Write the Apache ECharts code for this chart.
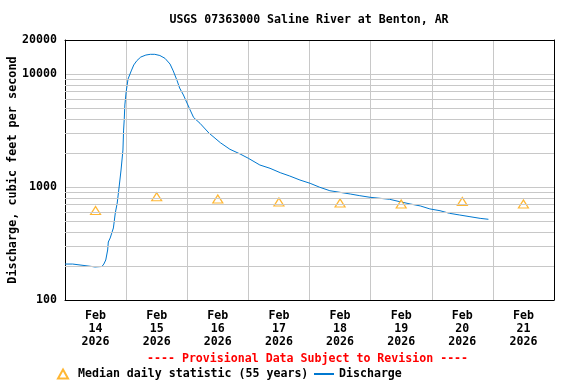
<!DOCTYPE html>
<html>
<head>
<meta charset="utf-8">
<script src="https://cdn.jsdelivr.net/npm/echarts@6/dist/echarts.min.js"></script>
<style>html,body{margin:0;padding:0;background:#fff}#c{width:576px;height:384px}</style>
</head>
<body>
<div id="c"></div>
<script>
// ---- data ----
const dayCategories = ['2026-02-14','2026-02-15','2026-02-16','2026-02-17','2026-02-18','2026-02-19','2026-02-20','2026-02-21'];
const dayTickLabels = ['Feb\n14\n2026','Feb\n15\n2026','Feb\n16\n2026','Feb\n17\n2026','Feb\n18\n2026','Feb\n19\n2026','Feb\n20\n2026','Feb\n21\n2026'];
const medianValues = [619, 821, 783, 736, 721, 708, 745, 708];
const dischargeTimes = [
 '2026-02-14 00:00','2026-02-14 03:00','2026-02-14 03:30','2026-02-14 10:30','2026-02-14 11:00','2026-02-14 11:45',
 '2026-02-14 12:00','2026-02-14 14:30','2026-02-14 15:15','2026-02-14 16:00','2026-02-14 16:45','2026-02-14 17:00',
 '2026-02-14 17:45','2026-02-14 18:15','2026-02-14 19:00','2026-02-14 19:45','2026-02-14 20:30','2026-02-14 21:15',
 '2026-02-14 22:00','2026-02-14 22:45','2026-02-14 23:00','2026-02-14 23:15','2026-02-14 23:30','2026-02-15 00:00',
 '2026-02-15 00:45','2026-02-15 02:00','2026-02-15 03:00','2026-02-15 04:15','2026-02-15 05:45','2026-02-15 07:45',
 '2026-02-15 09:30','2026-02-15 11:15','2026-02-15 13:15','2026-02-15 15:15','2026-02-15 17:15','2026-02-15 18:30',
 '2026-02-15 20:00','2026-02-15 21:00','2026-02-15 22:30','2026-02-16 01:00','2026-02-16 02:30','2026-02-16 05:00',
 '2026-02-16 08:30','2026-02-16 13:00','2026-02-16 16:45','2026-02-16 20:45','2026-02-17 00:00','2026-02-17 04:30',
 '2026-02-17 08:30','2026-02-17 12:30','2026-02-17 16:15','2026-02-17 20:15','2026-02-18 00:15','2026-02-18 04:00',
 '2026-02-18 08:00','2026-02-18 12:00','2026-02-18 16:00','2026-02-18 19:45','2026-02-18 23:45','2026-02-19 03:45',
 '2026-02-19 07:30','2026-02-19 11:30','2026-02-19 15:30','2026-02-19 19:30','2026-02-19 23:15','2026-02-20 03:15',
 '2026-02-20 07:00','2026-02-20 11:00','2026-02-20 15:00','2026-02-20 19:00','2026-02-20 22:15'
];
const dischargeValues = [
 208,208,200,198,196,196,
 198,198,208,226,277,326,
 354,384,434,589,721,1000,
 1413,2125,3190,3915,5320,6935,
 9030,10650,12030,13150,14130,14720,
 14940,14940,14580,13770,12250,10650,
 8750,7520,6520,4877,4120,3664,
 3005,2466,2157,1960,1795,1566,
 1464,1339,1251,1153,1078,995,
 927,897,867,838,811,794,
 778,741,708,680,640,617,
 585,565,546,528,518
];
const yTickValues = [100, 1000, 10000, 20000];
const minorGridValues = [200,300,400,500,600,700,800,900,2000,3000,4000,5000,6000,7000,8000,9000];

// ---- helpers ----
const START_DAY = 14;
function hoursOf(s){
  const d = +s.slice(8,10), h = +s.slice(11,13), m = +s.slice(14,16);
  return (d - START_DAY) * 24 + h + m / 60;
}
const FONT = 'DejaVu Sans Mono';
const FS = 11.6;
const txt = {fontFamily: FONT, fontWeight: 'bold', fontSize: FS, color: '#000'};
const GRID = '#c8c8c8';
const ORANGE = '#ffa500';
const BLUE = '#0078d0';

const chart = echarts.init(document.getElementById('c'), null, {renderer: 'canvas'});
chart.setOption({
  animation: false,
  backgroundColor: '#fff',
  title: {
    text: 'USGS 07363000 Saline River at Benton, AR',
    left: 304, top: 9, textAlign: 'center',
    textStyle: Object.assign({}, txt)
  },
  graphic: [{
    type: 'text', left: 147, top: 353,
    style: {text: '---- Provisional Data Subject to Revision ----', fill: '#ff0000',
      font: 'bold ' + FS + 'px "DejaVu Sans Mono"'}
  }],
  legend: [{
    left: 52, top: 363, itemWidth: 10, itemHeight: 9, itemGap: 8,
    data: ['Median daily statistic (55 years)'],
    textStyle: Object.assign({}, txt, {padding: [0,0,0,5]})
  }, {
    left: 308, top: 363, itemWidth: 20, itemHeight: 10,
    data: [{name: 'Discharge', itemStyle: {opacity: 0}}],
    textStyle: Object.assign({}, txt)
  }],
  grid: {left: 65, right: 22, top: 40, bottom: 84, containLabel: false, outerBoundsMode: 'none'},
  xAxis: [{
    type: 'value', min: 0, max: 192, interval: 24, position: 'top',
    axisLine: {show: true, lineStyle: {color: '#000', width: 1}},
    axisTick: {show: false}, axisLabel: {show: false},
    splitLine: {show: true, showMinLine: false, showMaxLine: false, lineStyle: {color: GRID, width: 1}}
  }, {
    type: 'category', data: dayCategories, position: 'bottom', boundaryGap: true,
    axisLine: {show: true, lineStyle: {color: '#000', width: 1}},
    axisTick: {show: false}, splitLine: {show: false},
    axisLabel: Object.assign({}, txt, {margin: 9, lineHeight: 13, interval: 0,
      formatter: (v, i) => dayTickLabels[i]})
  }],
  yAxis: [{
    type: 'log', logBase: 10, min: 100, max: 20000, position: 'left',
    name: 'Discharge, cubic feet per second', nameLocation: 'middle', nameGap: 46,
    nameMoveOverlap: false,
    nameTextStyle: Object.assign({}, txt, {fontSize: 11.8}),
    axisLine: {show: true, lineStyle: {color: '#000', width: 1}},
    axisTick: {show: false},
    axisLabel: Object.assign({}, txt, {margin: 8,
      formatter: v => { const r = Math.round(v); return yTickValues.indexOf(r) >= 0 ? String(r) : ''; }}),
    splitLine: {show: true, showMinLine: false, showMaxLine: false, lineStyle: {color: GRID, width: 1}}
  }, {
    type: 'log', logBase: 10, min: 100, max: 20000, position: 'right',
    axisLine: {show: true, lineStyle: {color: '#000', width: 1}},
    axisTick: {show: false}, axisLabel: {show: false}, splitLine: {show: false}
  }],
  series: [{
    name: '_grid', type: 'line', data: [], z: -1, silent: true,
    markLine: {
      silent: true, symbol: 'none', label: {show: false},
      lineStyle: {color: GRID, width: 1, type: 'solid'},
      data: minorGridValues.map(v => ({yAxis: v}))
    }
  }, {
    name: 'Median daily statistic (55 years)', type: 'scatter',
    xAxisIndex: 1, yAxisIndex: 0, data: medianValues,
    symbol: 'triangle', symbolSize: [10, 8],
    itemStyle: {color: '#fff', borderColor: ORANGE, borderWidth: 1.2},
    z: 4
  }, {
    name: 'Discharge', type: 'line', xAxisIndex: 0, yAxisIndex: 0,
    data: dischargeTimes.map((t, i) => [hoursOf(t), dischargeValues[i]]),
    symbol: 'none', lineStyle: {color: BLUE, width: 1}, itemStyle: {color: BLUE},
    z: 3
  }]
});
</script>
</body>
</html>
